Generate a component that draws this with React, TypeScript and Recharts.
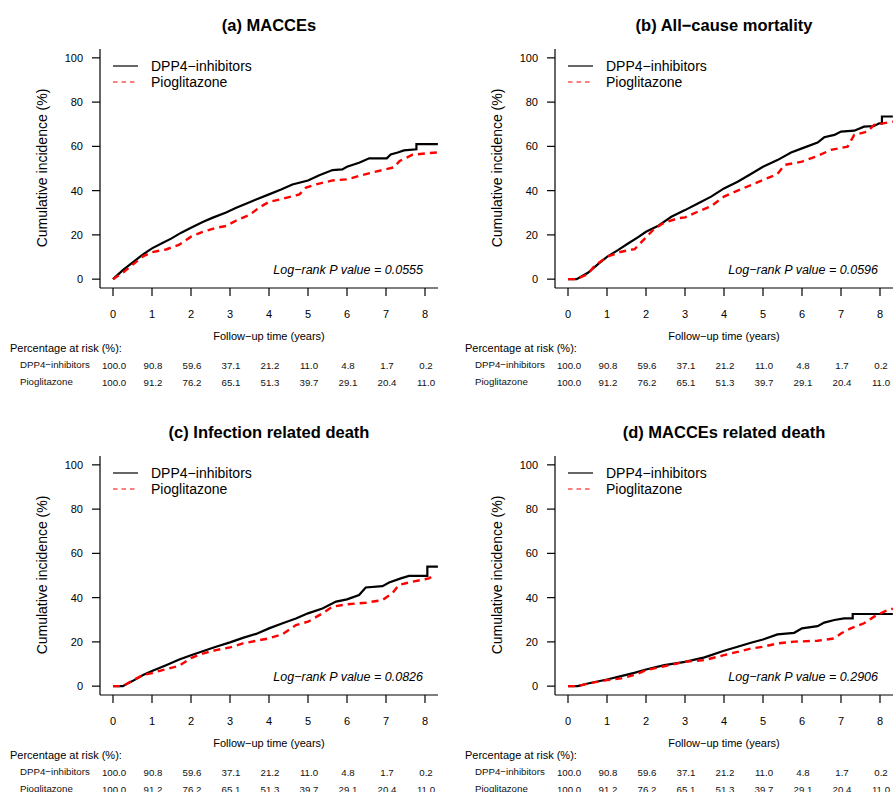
import React from 'react';
import { LineChart, Line, XAxis, YAxis, Label } from 'recharts';

// axes
const xTicks = [0, 1, 2, 3, 4, 5, 6, 7, 8];
const yTicks = [0, 20, 40, 60, 80, 100];

// percentage at risk (same table under every panel)
const dppRisk = [100.0, 90.8, 59.6, 37.1, 21.2, 11.0, 4.8, 1.7, 0.2];
const pioRisk = [100.0, 91.2, 76.2, 65.1, 51.3, 39.7, 29.1, 20.4, 11.0];

// [years, cumulative incidence %]
const maccesDpp: [number, number][] = [
  [0, 0], [0.26, 4.2], [0.5, 7.5], [0.77, 11.2], [1, 13.9], [1.28, 16.4], [1.49, 18.3], [1.75, 21.0],
  [2, 23.2], [2.3, 25.8], [2.56, 27.8], [2.9, 30.1], [3.16, 32.3], [3.41, 34.1], [3.67, 36.0], [4, 38.3],
  [4.31, 40.5], [4.6, 42.8], [5, 44.6], [5.29, 47.0], [5.63, 49.3], [5.88, 49.6], [6, 50.8], [6.31, 52.6],
  [6.57, 54.6], [7.02, 54.6], [7.12, 56.3], [7.3, 57.2], [7.46, 58.2], [7.78, 58.7], [7.78, 61.0], [8.33, 61.0],
];
const maccesPio: [number, number][] = [
  [0, 0], [0.26, 3.0], [0.5, 6.5], [0.77, 10.3], [1, 12.2], [1.36, 13.4], [1.7, 15.6], [2, 19.2],
  [2.3, 21.4], [2.64, 23.2], [2.9, 24.0], [3.16, 26.5], [3.5, 29.0], [3.75, 32.4], [4, 34.9], [4.35, 36.3],
  [4.78, 38.3], [4.95, 41.4], [5.29, 43.2], [5.63, 44.6], [6, 45.1], [6.4, 47.1], [6.74, 48.6], [7.2, 50.5],
  [7.35, 53.4], [7.68, 56.2], [8, 56.8], [8.33, 57.3],
];

const mortDpp: [number, number][] = [
  [0, 0], [0.22, 0], [0.51, 2.9], [0.77, 6.8], [1, 10.1], [1.28, 13.1], [1.54, 16.1], [1.79, 18.9],
  [2, 21.4], [2.3, 24.0], [2.65, 28.2], [3, 31.2], [3.33, 34.2], [3.67, 37.3], [4, 41.0], [4.35, 44.0],
  [4.69, 47.5], [5, 50.8], [5.37, 53.8], [5.72, 57.2], [6, 59.1], [6.4, 61.7], [6.57, 64.1], [6.83, 65.2],
  [7, 66.7], [7.34, 67.1], [7.59, 68.9], [7.85, 69.2], [7.98, 70.4], [8.05, 70.4], [8.05, 73.5], [8.33, 73.5],
];
const mortPio: [number, number][] = [
  [0, 0], [0.22, 0], [0.51, 2.3], [0.68, 6.0], [1, 10.1], [1.37, 12.4], [1.71, 13.6], [2, 18.9],
  [2.22, 22.9], [2.47, 25.5], [2.82, 27.5], [3, 27.9], [3.33, 30.5], [3.67, 33.0], [4, 37.3], [4.35, 40.0],
  [4.69, 42.5], [5, 44.8], [5.37, 47.5], [5.55, 51.6], [6, 53.1], [6.4, 55.7], [6.74, 58.4], [7.17, 59.9],
  [7.34, 65.2], [7.68, 66.7], [7.85, 69.7], [8.33, 71.2],
];

const infDpp: [number, number][] = [
  [0, 0], [0.25, 0], [0.51, 2.4], [0.77, 5.0], [1, 6.8], [1.36, 9.4], [1.7, 12.0], [2, 14.0],
  [2.3, 15.8], [2.64, 17.8], [3, 19.8], [3.33, 21.8], [3.67, 23.6], [4, 26.1], [4.35, 28.4], [4.69, 30.6],
  [5, 32.9], [5.37, 35.1], [5.72, 38.2], [6, 39.2], [6.31, 41.2], [6.48, 44.6], [6.91, 45.2], [7.08, 46.8],
  [7.38, 48.7], [7.59, 49.8], [8.06, 49.8], [8.06, 54.0], [8.33, 54.0],
];
const infPio: [number, number][] = [
  [0, 0], [0.25, 0], [0.51, 2.7], [0.77, 5.0], [1, 5.9], [1.36, 7.7], [1.7, 9.2], [2, 12.7],
  [2.3, 14.7], [2.64, 16.3], [3, 17.5], [3.33, 19.3], [3.67, 20.5], [4, 21.6], [4.35, 23.5], [4.69, 27.6],
  [5, 29.1], [5.37, 32.9], [5.63, 35.9], [6, 37.0], [6.48, 37.7], [6.91, 38.9], [7.16, 41.9], [7.33, 45.7],
  [7.68, 47.2], [8.1, 48.7], [8.23, 50.2],
];

const cvDpp: [number, number][] = [
  [0, 0], [0.25, 0], [0.51, 1.2], [1, 3.0], [1.36, 4.5], [1.7, 6.0], [2, 7.5], [2.47, 9.5],
  [3, 11.0], [3.5, 13.0], [4, 16.0], [4.35, 17.8], [4.69, 19.6], [5, 21.1], [5.37, 23.4], [5.8, 24.1],
  [6, 26.1], [6.4, 27.1], [6.57, 28.7], [6.83, 29.9], [7.08, 30.6], [7.3, 30.6], [7.3, 32.6], [8.33, 32.6],
];
const cvPio: [number, number][] = [
  [0, 0], [0.25, 0], [0.51, 1.2], [1, 2.7], [1.36, 3.5], [1.7, 5.0], [2, 7.2], [2.47, 9.0],
  [3, 11.0], [3.5, 11.8], [4, 14.0], [4.35, 15.5], [4.69, 17.0], [5, 17.8], [5.37, 19.3], [5.8, 20.1],
  [6.4, 20.5], [6.83, 21.6], [7, 23.8], [7.25, 26.1], [7.59, 28.4], [7.85, 31.4], [8.19, 34.4], [8.33, 35.0],
];

const panels = [
  { title: '(a) MACCEs', p: '0.0555', dpp: maccesDpp, pio: maccesPio },
  { title: '(b) All\u2212cause mortality', p: '0.0596', dpp: mortDpp, pio: mortPio },
  { title: '(c) Infection related death', p: '0.0826', dpp: infDpp, pio: infPio },
  { title: '(d) MACCEs related death', p: '0.2906', dpp: cvDpp, pio: cvPio },
];

const FONT = '"Liberation Sans", Arial, Helvetica, sans-serif';
const PW = 455;
const PH = 407;
const X_DOMAIN: [number, number] = [-1 / 3, 25 / 3];

const toPoints = (pairs: [number, number][]) => pairs.map(([t, v]) => ({ t, v }));

const center: React.CSSProperties = {
  position: 'absolute',
  whiteSpace: 'nowrap',
  lineHeight: 1,
  color: '#000',
};

function Panel({ title, p, dpp, pio, left, top }: any) {
  return (
    <div style={{ position: 'absolute', left, top, width: PW, height: PH }}>
      <LineChart width={PW} height={PH} margin={{ top: 49, right: 17, bottom: 22, left: 40 }}>
        <XAxis
          xAxisId="main"
          type="number"
          dataKey="t"
          domain={X_DOMAIN}
          allowDataOverflow
          ticks={xTicks}
          interval={0}
          height={55}
          tickSize={8}
          tickMargin={14}
          stroke="#000"
          strokeWidth={1.2}
          tick={{ fontSize: 11, fill: '#000' }}
        >
          <Label value={'Follow\u2212up time (years)'} position="insideBottom" offset={3} fontSize={11} fill="#000" />
        </XAxis>
        <XAxis
          xAxisId="risk1"
          type="number"
          dataKey="t"
          domain={X_DOMAIN}
          allowDataOverflow
          ticks={xTicks}
          interval={0}
          height={22}
          axisLine={false}
          tickLine={false}
          tickSize={0}
          tickMargin={19}
          tick={{ fontSize: 9.7, fill: '#111', dx: 1 }}
          tickFormatter={(v: number) => dppRisk[v].toFixed(1)}
        />
        <XAxis
          xAxisId="risk2"
          type="number"
          dataKey="t"
          domain={X_DOMAIN}
          allowDataOverflow
          ticks={xTicks}
          interval={0}
          height={20}
          axisLine={false}
          tickLine={false}
          tickSize={0}
          tickMargin={14}
          tick={{ fontSize: 9.7, fill: '#111', dx: 1 }}
          tickFormatter={(v: number) => pioRisk[v].toFixed(1)}
        />
        <YAxis
          type="number"
          domain={[-4, 104]}
          allowDataOverflow
          ticks={yTicks}
          interval={0}
          width={60}
          tickSize={8}
          tickMargin={9}
          stroke="#000"
          strokeWidth={1.2}
          tick={{ fontSize: 11, fill: '#000' }}
        />
        <Line
          xAxisId="main"
          data={toPoints(dpp)}
          dataKey="v"
          type="linear"
          stroke="#000"
          strokeWidth={2.2}
          dot={false}
          isAnimationActive={false}
        />
        <Line
          xAxisId="main"
          data={toPoints(pio)}
          dataKey="v"
          type="linear"
          stroke="#ff0000"
          strokeWidth={2.4}
          strokeDasharray="7 5"
          dot={false}
          isAnimationActive={false}
        />
      </LineChart>

      <div style={{ ...center, left: 269, top: 25, transform: 'translate(-50%, -50%)', fontSize: 16.5, fontWeight: 'bold' }}>
        {title}
      </div>
      <div style={{ ...center, left: 42, top: 168, transform: 'translate(-50%, -50%) rotate(-90deg)', fontSize: 14 }}>
        Cumulative incidence (%)
      </div>

      <svg style={{ position: 'absolute', left: 113, top: 58 }} width={26} height={32}>
        <line x1={0} y1={8} x2={25} y2={8} stroke="#000" strokeWidth={1.2} />
        <line x1={0} y1={24} x2={25} y2={24} stroke="#ff0000" strokeWidth={1.2} strokeDasharray="4.5 4" />
      </svg>
      <div style={{ ...center, left: 151, top: 66, transform: 'translateY(-50%)', fontSize: 14 }}>DPP4{'\u2212'}inhibitors</div>
      <div style={{ ...center, left: 151, top: 82, transform: 'translateY(-50%)', fontSize: 14 }}>Pioglitazone</div>

      <div style={{ ...center, right: PW - 423, top: 270, transform: 'translateY(-50%)', fontSize: 12.5, fontStyle: 'italic' }}>
        Log{'\u2212'}rank P value = {p}
      </div>

      <div style={{ ...center, left: 10, top: 348, transform: 'translateY(-50%)', fontSize: 11 }}>Percentage at risk (%):</div>
      <div style={{ ...center, left: 20, top: 365, transform: 'translateY(-50%)', fontSize: 9.7, color: '#111' }}>
        DPP4{'\u2212'}inhibitors
      </div>
      <div style={{ ...center, left: 20, top: 382, transform: 'translateY(-50%)', fontSize: 9.7, color: '#111' }}>Pioglitazone</div>
    </div>
  );
}

export default function App() {
  return (
    <div
      style={{
        position: 'absolute',
        left: 0,
        top: 0,
        width: 893,
        height: 792,
        overflow: 'hidden',
        background: '#fff',
        fontFamily: FONT,
      }}
    >
      {panels.map((pn, i) => (
        <Panel key={i} {...pn} left={(i % 2) * PW} top={Math.floor(i / 2) * PH} />
      ))}
    </div>
  );
}
